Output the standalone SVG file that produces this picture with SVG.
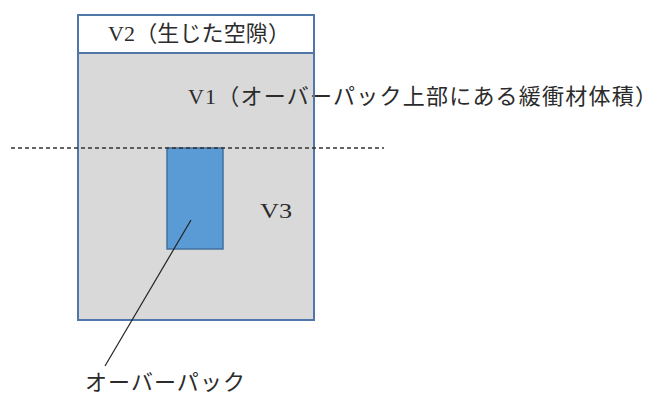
<svg xmlns="http://www.w3.org/2000/svg" width="660" height="397" viewBox="0 0 660 397">
<style>
.t{font-family:"Liberation Serif","Noto Sans CJK JP",serif;font-size:22px;fill:#2b2b2b}
.b{fill:none;stroke:#4f77aa;stroke-width:2}
</style>
<rect width="660" height="397" fill="#fff"/>
<g id="v1-region">
<rect x="78" y="53" width="236" height="267" fill="#d9d9d9"/>
<text class="t" x="188" y="104" textLength="469" lengthAdjust="spacing">V1（オーバーパック上部にある緩衝材体積）</text>
</g>
<g id="v2-box">
<rect x="78" y="15" width="236" height="38" fill="#fff"/>
<text class="t" x="108" y="41" textLength="182" lengthAdjust="spacing">V2（生じた空隙）</text>
</g>
<g id="outer-frame">
<rect class="b" x="78" y="15" width="236" height="305"/>
<line class="b" x1="78" y1="53" x2="314" y2="53"/>
</g>
<g id="overpack">
<rect x="167" y="148" width="56" height="101" fill="#5b9bd5" stroke="#41719c" stroke-width="1.5"/>
</g>
<g id="v3">
<text class="t" x="260" y="218" textLength="32" lengthAdjust="spacingAndGlyphs">V3</text>
</g>
<g id="connectors">
<line x1="11" y1="148" x2="384" y2="148" stroke="#333" stroke-width="1.3" stroke-dasharray="4,3"/>
<line x1="191" y1="220" x2="105" y2="366" stroke="#222" stroke-width="1.2"/>
</g>
<g id="overpack-label">
<text class="t" x="85" y="390" textLength="160" lengthAdjust="spacing">オーバーパック</text>
</g>
</svg>
